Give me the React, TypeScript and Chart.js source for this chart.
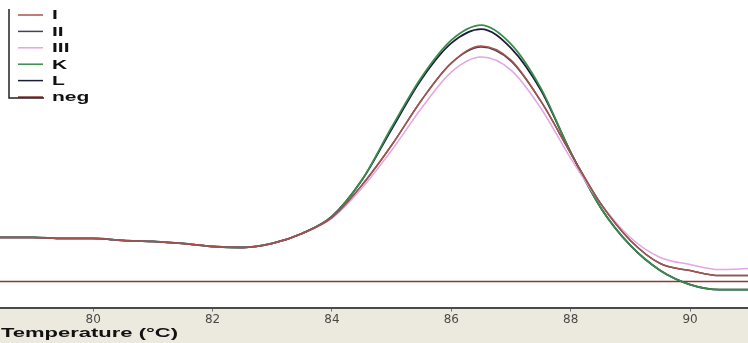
import React, { useEffect, useRef } from "react";
import { Chart, registerables } from "chart.js";

Chart.register(...registerables);

const temps = [78.4, 78.5, 79, 79.5, 80, 80.5, 81, 81.5, 82, 82.5, 83, 83.5, 84, 84.5, 85, 85.5, 86, 86.5, 87, 87.5, 88, 88.5, 89, 89.5, 90, 90.5, 91];

const seriesI = [70, 70, 70, 69, 69, 67, 66, 64, 61, 60, 64, 74, 90, 122, 162, 207, 244, 261, 247, 206, 154, 104, 67, 44, 37, 32, 32];
const seriesII = [70, 70, 70, 69, 69, 67, 66, 64, 61, 60, 64, 74, 90, 122, 162, 207, 244, 260, 246, 206, 154, 104, 67, 44, 37, 32, 32];
const seriesIII = [70, 70, 70, 69, 69, 67, 66, 64, 61, 60, 64, 74, 89, 119, 157, 199, 235, 250, 237, 199, 149, 104, 70, 50, 43, 38, 39];
const seriesK = [70, 70, 70, 69, 69, 67, 66, 64, 61, 60, 64, 74, 91, 127, 180, 230, 267, 282, 263, 219, 155, 100, 62, 37, 23, 18, 18];
const seriesL = [70, 70, 70, 69, 69, 67, 66, 64, 61, 60, 64, 74, 91, 127, 178, 228, 264, 278, 259, 217, 155, 100, 62, 37, 23, 18, 18];
const seriesNeg = [26, 26, 26, 26, 26, 26, 26, 26, 26, 26, 26, 26, 26, 26, 26, 26, 26, 26, 26, 26, 26, 26, 26, 26, 26, 26, 26];

const seriesNames = ["I", "II", "III", "K", "L", "neg"];
const seriesColors = ["#a8524c", "#3c4656", "#e2a6e0", "#3a8c4c", "#1c1c3c", "#8a3a3a"];
const xTickLabels = [80, 82, 84, 86, 88, 90];
const xTitle = "Temperature (°C)";

const bgPlugin = {
  id: "bgPlugin",
  beforeDraw(chart: any) {
    const { ctx, chartArea } = chart;
    ctx.save();
    ctx.fillStyle = "#ece9df";
    ctx.fillRect(0, 0, chart.width, chart.height);
    ctx.fillStyle = "#ffffff";
    ctx.fillRect(0, 0, chart.width, chartArea.bottom);
    ctx.restore();
  },
};

const titlePlugin = {
  id: "titlePlugin",
  afterDraw(chart: any) {
    const { ctx } = chart;
    ctx.save();
    ctx.font = "bold 13px 'Liberation Sans', Arial, sans-serif";
    ctx.textBaseline = "middle";
    ctx.textAlign = "left";
    ctx.fillStyle = "#111111";
    const w = ctx.measureText(xTitle).width;
    const sx = 177 / w;
    ctx.translate(1, 333);
    ctx.scale(sx, 1);
    ctx.fillText(xTitle, 0, 0);
    ctx.restore();
  },
};

const legendPlugin = {
  id: "legendPlugin",
  afterDatasetsDraw(chart: any) {
    const { ctx } = chart;
    const ds = chart.data.datasets;
    ctx.save();
    const top = 15;
    const step = 16.4;
    ctx.font = "bold 12px 'Liberation Sans', Arial, sans-serif";
    ctx.textBaseline = "middle";
    ctx.textAlign = "left";
    ds.forEach((d: any, i: number) => {
      const y = top + i * step;
      ctx.strokeStyle = d.borderColor;
      ctx.lineWidth = 1.5;
      ctx.beginPath();
      ctx.moveTo(18, y);
      ctx.lineTo(43, y);
      ctx.stroke();
      ctx.save();
      ctx.fillStyle = "#111111";
      ctx.translate(52, y + 1);
      ctx.scale(1.75, 1);
      ctx.fillText(d.label, 0, 0);
      ctx.restore();
    });
    ctx.strokeStyle = "#222222";
    ctx.lineWidth = 1.5;
    ctx.beginPath();
    ctx.moveTo(9, 9);
    ctx.lineTo(9, 98);
    ctx.lineTo(44, 98);
    ctx.stroke();
    ctx.restore();
  },
};

export default function App() {
  const canvasRef = useRef<HTMLCanvasElement | null>(null);

  useEffect(() => {
    const values = [seriesI, seriesII, seriesIII, seriesK, seriesL, seriesNeg];
    const chart = new Chart(canvasRef.current as HTMLCanvasElement, {
      type: "line",
      data: {
        datasets: seriesNames.map((name, i) => ({
          label: name,
          data: temps.map((t, j) => ({ x: t, y: values[i][j] })),
          borderColor: seriesColors[i],
          backgroundColor: seriesColors[i],
          borderWidth: i === 3 || i === 4 ? 1.8 : 1.5,
          pointRadius: 0,
          tension: 0.4,
          cubicInterpolationMode: "monotone" as const,
        })),
      },
      options: {
        animation: false,
        responsive: true,
        maintainAspectRatio: false,
        layout: { padding: { left: 0, right: 0, top: 0, bottom: 15 } },
        plugins: {
          legend: { display: false },
          tooltip: { enabled: false },
        },
        scales: {
          x: {
            type: "linear",
            min: 78.44,
            max: 90.97,
            afterBuildTicks: (scale: any) => {
              scale.ticks = xTickLabels.map((v) => ({ value: v }));
            },
            ticks: {
              includeBounds: false,
              font: { size: 12, family: "'DejaVu Sans', sans-serif", lineHeight: 1.2 },
              color: "#4a4a4a",
              padding: 1,
              maxRotation: 0,
            },
            grid: {
              drawOnChartArea: false,
              drawTicks: true,
              tickLength: 4,
              color: "#777777",
            },
            border: { display: true, color: "#4a4a4a", width: 2 },
            title: { display: false },
          },
          y: {
            display: false,
            min: 0,
            max: 307,
          },
        },
      },
      plugins: [bgPlugin, legendPlugin, titlePlugin],
    });
    return () => chart.destroy();
  }, []);

  return (
    <div style={{ position: "fixed", left: 0, top: 0, width: 748, height: 343, background: "#ffffff" }}>
      <canvas ref={canvasRef} />
    </div>
  );
}
